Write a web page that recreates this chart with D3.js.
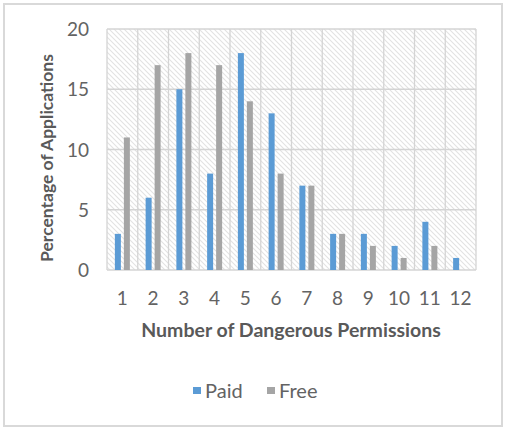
<!DOCTYPE html>
<html>
<head>
<meta charset="utf-8">
<script src="https://cdn.jsdelivr.net/npm/d3@7"></script>
<style>
  body { margin: 0; background: #fff; }
  text { font-family: Lato, "Open Sans", sans-serif; }
</style>
</head>
<body>
<svg id="viz"></svg>
<script>
const categories = ["1","2","3","4","5","6","7","8","9","10","11","12"];
const paid = [3, 6, 15, 8, 18, 13, 7, 3, 3, 2, 4, 1];
const free = [11, 17, 18, 17, 14, 8, 7, 3, 2, 1, 2, 0];
const yTicks = [0, 5, 10, 15, 20];
const seriesNames = ["Paid", "Free"];
const seriesColors = ["#5b9bd5", "#a5a5a5"];

const width = 508, height = 436;
const margin = {left: 107, top: 29, right: 32, bottom: 166};

const svg = d3.select("#viz")
    .attr("width", width)
    .attr("height", height);

// outer frame
svg.append("rect")
    .attr("x", 4).attr("y", 4)
    .attr("width", 498).attr("height", 422)
    .attr("fill", "#fff")
    .attr("stroke", "#d9d9d9")
    .attr("stroke-width", 2);

// hatch pattern for the plot background
const pat = svg.append("defs").append("pattern")
    .attr("id", "hatch")
    .attr("patternUnits", "userSpaceOnUse")
    .attr("width", 5).attr("height", 5);
pat.append("path")
    .attr("d", "M-1,-1 L6,6 M-1,4 L1,6 M4,-1 L6,1")
    .attr("stroke", "#e2e2e2")
    .attr("stroke-width", 1.1);

const x = d3.scaleBand()
    .domain(categories)
    .range([margin.left, width - margin.right]);

const y = d3.scaleLinear()
    .domain([0, 20])
    .range([height - margin.bottom, margin.top]);

const plot = svg.append("g");

plot.append("rect")
    .attr("x", margin.left).attr("y", margin.top)
    .attr("width", x.range()[1] - margin.left)
    .attr("height", y(0) - margin.top)
    .attr("fill", "url(#hatch)");

// gridlines
plot.selectAll("line.h")
    .data(yTicks)
    .enter().append("line")
    .attr("x1", margin.left).attr("x2", x.range()[1])
    .attr("y1", d => y(d)).attr("y2", d => y(d))
    .attr("stroke", "#d4d4d4").attr("stroke-width", 1.3);

plot.selectAll("line.v")
    .data(categories.concat(["end"]))
    .enter().append("line")
    .attr("x1", (d, i) => margin.left + i * x.step())
    .attr("x2", (d, i) => margin.left + i * x.step())
    .attr("y1", margin.top).attr("y2", y(0))
    .attr("stroke", "#d4d4d4").attr("stroke-width", 1.3);

// bars
const barW = 6, gap = 3;
const series = [paid, free];
series.forEach(function(vals, s) {
    plot.selectAll("rect.s" + s)
        .data(vals)
        .enter().append("rect")
        .attr("x", (d, i) => x(categories[i]) + x.bandwidth() / 2 + (s === 0 ? -barW - gap / 2 : gap / 2))
        .attr("y", d => y(d))
        .attr("width", barW)
        .attr("height", d => y(0) - y(d))
        .attr("fill", seriesColors[s]);
});

// y tick labels
svg.selectAll("text.yt")
    .data(yTicks)
    .enter().append("text")
    .attr("x", 89)
    .attr("y", d => y(d) + 7)
    .attr("text-anchor", "end")
    .attr("font-size", 19)
    .attr("fill", "#636363")
    .text(d => d);

// x tick labels
svg.selectAll("text.xt")
    .data(categories)
    .enter().append("text")
    .attr("x", d => x(d) + x.bandwidth() / 2)
    .attr("y", 305)
    .attr("text-anchor", "middle")
    .attr("font-size", 19)
    .attr("fill", "#636363")
    .text(d => d);

// axis titles
svg.append("text")
    .attr("x", 291).attr("y", 337)
    .attr("text-anchor", "middle")
    .attr("font-size", 19.5)
    .attr("font-weight", "bold")
    .attr("fill", "#595959")
    .text("Number of Dangerous Permissions");

svg.append("text")
    .attr("transform", "translate(53,158) rotate(-90)")
    .attr("text-anchor", "middle")
    .attr("font-size", 17.5)
    .attr("font-weight", "bold")
    .attr("fill", "#595959")
    .text("Percentage of Applications");

// legend
const legendX = [193, 267];
seriesNames.forEach(function(name, i) {
    svg.append("rect")
        .attr("x", legendX[i]).attr("y", 387)
        .attr("width", 8).attr("height", 7)
        .attr("fill", seriesColors[i]);
    svg.append("text")
        .attr("x", legendX[i] + 12).attr("y", 398)
        .attr("font-size", 20)
        .attr("fill", "#636363")
        .text(name);
});
</script>
</body>
</html>
